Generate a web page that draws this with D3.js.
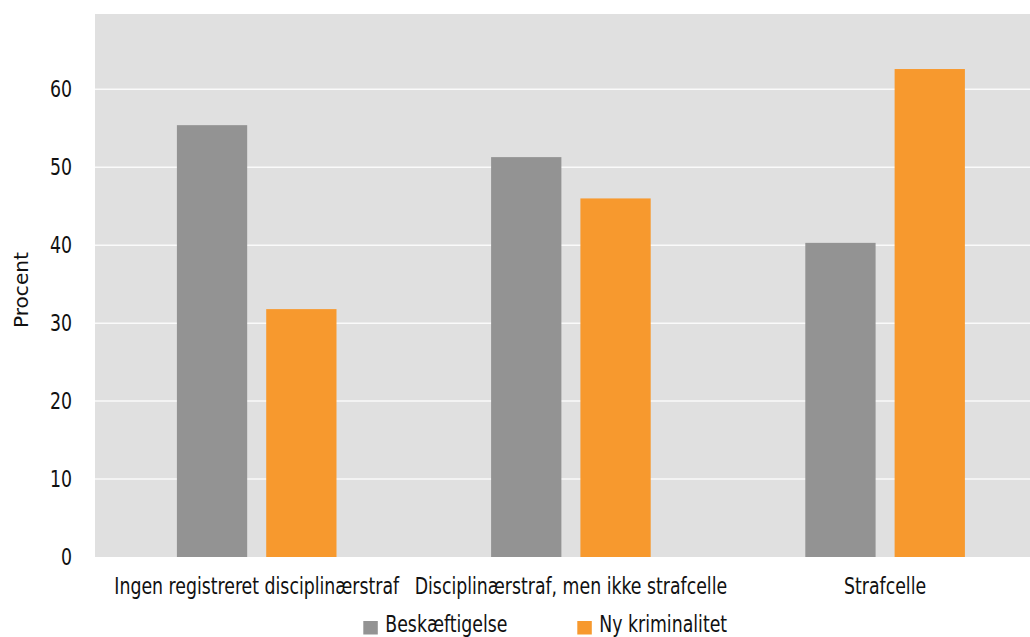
<!DOCTYPE html>
<html><head><meta charset="utf-8">
<script src="https://cdn.jsdelivr.net/npm/d3@7"></script>
<style>
body{margin:0;background:#fff;}
text{font-family:"DejaVu Sans Condensed","DejaVu Sans",sans-serif;fill:#111;}
</style></head>
<body><svg id="c" width="1030" height="637"></svg>
<script>
const categories = ["Ingen registreret disciplinærstraf", "Disciplinærstraf, men ikke strafcelle", "Strafcelle"];
const seriesNames = ["Beskæftigelse", "Ny kriminalitet"];
const beskaeftigelse = [55.4, 51.3, 40.3];
const nyKriminalitet = [31.8, 46.0, 62.6];
const yTicks = [0, 10, 20, 30, 40, 50, 60];
const colors = ["#939393", "#f7992e"];

const svg = d3.select("#c");
const plotL = 95, plotR = 1030, plotT = 14, plotB = 557;
const FS = 23;

// measure to get horizontal condensing factor (reference uses a condensed face)
const probe = svg.append("text").attr("font-size", FS).text(categories[0]);
const SX = 285 / probe.node().getComputedTextLength();
probe.remove();

function condense(sel) {
  sel.each(function() {
    const t = d3.select(this);
    const x = +(t.attr("x") || 0);
    t.attr("x", 0).attr("transform", `translate(${x},0) scale(${SX},1)`);
  });
}

const y = d3.scaleLinear().domain([0, 60]).range([plotB, 89.3]);
const x0 = d3.scaleBand().domain(categories).range([99.6, 1042.2]).paddingInner(0).paddingOuter(0);
const x1 = d3.scaleBand().domain(seriesNames).range([0, 159.6]).paddingInner(0.213).paddingOuter(0);
const innerOffset = (x0.bandwidth() - 159.6) / 2;

svg.append("rect").attr("x", plotL).attr("y", plotT).attr("width", plotR - plotL).attr("height", plotB - plotT).attr("fill", "#e0e0e0");

svg.append("g").selectAll("line").data(yTicks.filter(d => d > 0)).join("line")
  .attr("x1", plotL).attr("x2", plotR).attr("y1", d => y(d)).attr("y2", d => y(d))
  .attr("stroke", "#fafafa").attr("stroke-width", 1.5);

const yAxis = svg.append("g").attr("transform", `translate(${plotL},0)`)
  .call(d3.axisLeft(y).tickValues(yTicks).tickSize(0).tickPadding(23));
yAxis.select(".domain").remove();
yAxis.selectAll("text").attr("font-size", FS).attr("font-family", null).attr("fill", "#111").call(condense);

const data = categories.map((c, i) => ({cat: c, vals: [beskaeftigelse[i], nyKriminalitet[i]]}));
const groups = svg.append("g").selectAll("g").data(data).join("g")
  .attr("transform", d => `translate(${x0(d.cat) + innerOffset},0)`);
groups.selectAll("rect").data(d => d.vals.map((v, j) => ({name: seriesNames[j], v, j}))).join("rect")
  .attr("x", d => x1(d.name)).attr("width", x1.bandwidth())
  .attr("y", d => y(d.v)).attr("height", d => y(0) - y(d.v))
  .attr("fill", d => colors[d.j]);

const xAxis = svg.append("g").attr("transform", `translate(0,${plotB})`)
  .call(d3.axisBottom(x0).tickSize(0).tickPadding(21));
xAxis.select(".domain").remove();
xAxis.selectAll("text").attr("font-size", FS).attr("font-family", null).attr("fill", "#111").call(condense);

svg.append("text").attr("transform", `translate(27.5,290) rotate(-90)`)
  .attr("text-anchor", "middle").attr("font-size", 19)
  .attr("textLength", 76).attr("lengthAdjust", "spacingAndGlyphs").text("Procent");

const legendX = [363.3, 577.3];
const leg = svg.append("g").selectAll("g").data(seriesNames).join("g")
  .attr("transform", (d, i) => `translate(${legendX[i]},621)`);
leg.append("rect").attr("width", 14.5).attr("height", 13.5).attr("fill", (d, i) => colors[i]);
leg.append("text").attr("x", 22).attr("y", 11).attr("font-size", FS).text(d => d).call(condense);
</script></body></html>
